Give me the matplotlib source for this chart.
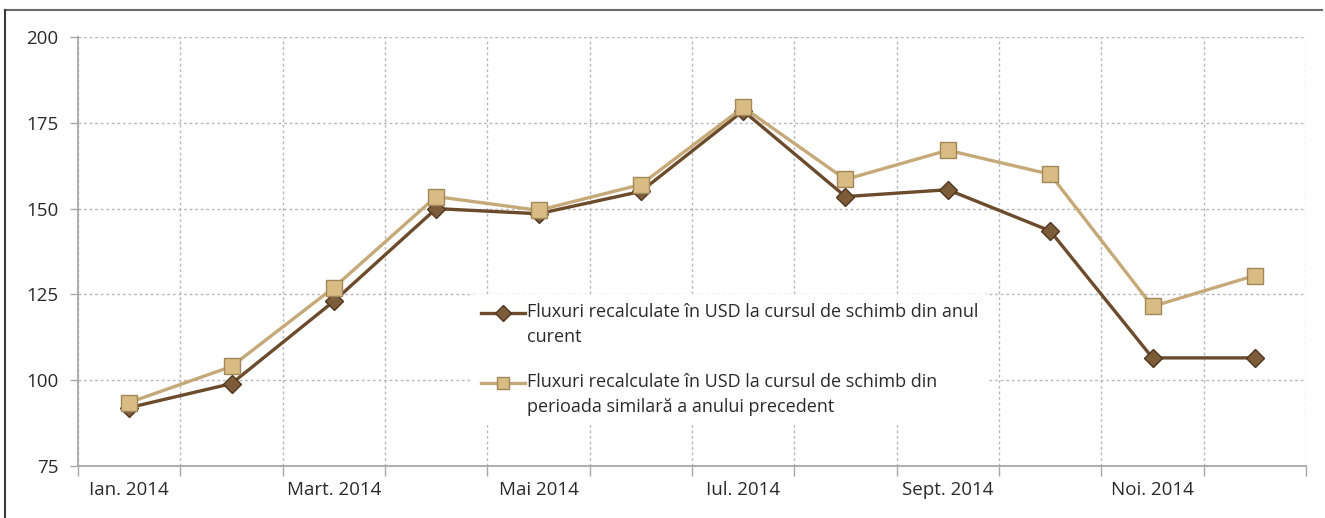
import matplotlib
matplotlib.use("Agg")
import matplotlib.pyplot as plt
import numpy as np
from matplotlib.lines import Line2D
from matplotlib.legend_handler import HandlerLine2D

# month labels shown every second category
months = ["Ian. 2014", "Febr. 2014", "Mart. 2014", "Apr. 2014", "Mai 2014", "Iun. 2014",
          "Iul. 2014", "Aug. 2014", "Sept. 2014", "Oct. 2014", "Noi. 2014", "Dec. 2014"]

# fluxuri recalculate in USD, curs curent vs. curs din perioada similara a anului precedent
curent = [92, 99, 123, 150, 148.5, 155, 178.5, 153.5, 155.5, 143.5, 106.5, 106.5]
precedent = [93.5, 104, 127, 153.5, 149.5, 157, 179.5, 158.5, 167, 160, 121.5, 130.5]

label_curent = "Fluxuri recalculate în USD la cursul de schimb din anul\ncurent"
label_precedent = "Fluxuri recalculate în USD la cursul de schimb din\nperioada similară a anului precedent"


# legend handle sitting on the first text line instead of the middle of the block
class FirstLineHandler(HandlerLine2D):
    def create_artists(self, legend, orig_handle, xdescent, ydescent, width, height,
                       fontsize, trans):
        arts = super().create_artists(legend, orig_handle, xdescent, ydescent, width,
                                      height, fontsize, trans)
        for a in arts:
            a.set_ydata(np.asarray(a.get_ydata()) + 8.5)
        return arts


plt.rcParams['font.family'] = ['Open Sans', 'DejaVu Sans']

fig = plt.figure(figsize=(13.25, 5.18), dpi=100)
ax = fig.add_axes([78 / 1325, 1 - 466 / 518, 1228 / 1325, 429 / 518])

x = list(range(len(months)))

ax.plot(x, curent, color='#6b4b2c', lw=2.4, marker='D', ms=9.5,
        mfc='#7d5c3a', mec='#4f361f', mew=1, zorder=3, label=label_curent)
ax.plot(x, precedent, color='#c6a978', lw=2.4, marker='s', ms=12,
        mfc='#d8bc84', mec='#a2875a', mew=1, zorder=4, label=label_precedent)

ax.set_xlim(-0.5, len(months) - 0.5)
ax.set_ylim(75, 200)
ax.set_yticks([75, 100, 125, 150, 175, 200])

ax.set_xticks(x[::2])
ax.set_xticklabels(months[::2])
ax.set_xticks([i - 0.5 for i in range(len(months) + 1)], minor=True)

ax.tick_params(axis='x', which='major', length=0, pad=11, labelsize=13.5, colors='#2a2a2a')
ax.tick_params(axis='x', which='minor', length=7, width=1, color='#a8a8a8')
ax.tick_params(axis='y', length=6, width=1, color='#a8a8a8', pad=8, labelsize=13.5,
               labelcolor='#2a2a2a')

ax.grid(True, axis='y', which='major', color='#b8b8b8', linestyle=(0, (2, 2)), lw=1)
ax.grid(True, axis='x', which='minor', color='#b8b8b8', linestyle=(0, (2, 2)), lw=1)

for s in ['top', 'right']:
    ax.spines[s].set_visible(False)
for s in ['left', 'bottom']:
    ax.spines[s].set_color('#a8a8a8')
    ax.spines[s].set_linewidth(1.3)

# legend order: dark series first
hs, ls = ax.get_legend_handles_labels()
leg = ax.legend(hs, ls, loc='upper left', bbox_to_anchor=(0.321, 0.402), frameon=True,
                fontsize=13, handlelength=2.4, handletextpad=0.15, labelspacing=1.5,
                borderpad=0.5, borderaxespad=0, labelcolor='#2a2a2a',
                handler_map={Line2D: FirstLineHandler()})
leg.get_frame().set_edgecolor('none')
leg.get_frame().set_facecolor('white')
leg.get_frame().set_alpha(1)
leg.set_zorder(5)
for t in leg.get_texts():
    t.set_linespacing(1.5)
for h in leg.legend_handles:
    h.set_markersize(8)

# outer frame of the figure
fig.add_artist(Line2D([5 / 1325, 1322 / 1325], [1 - 10 / 518, 1 - 10 / 518],
                      transform=fig.transFigure, color='#6a6a6a', lw=1.5))
fig.add_artist(Line2D([5 / 1325, 5 / 1325], [1 - 10 / 518, 0],
                      transform=fig.transFigure, color='#3a3a3a', lw=1.5))

fig.savefig('out.png', dpi=100)
